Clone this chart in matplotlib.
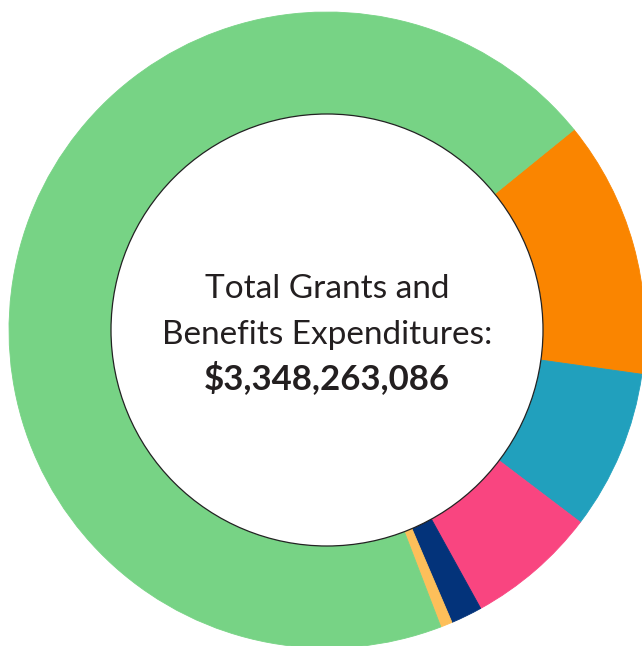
import matplotlib
matplotlib.use("Agg")
import matplotlib.pyplot as plt
from matplotlib.patches import Circle

# Data (shares, percent)
categories = ["Category A", "Category B", "Category C", "Category D", "Category E", "Category F"]
shares = [13.07, 8.11, 6.64, 1.60, 0.60, 69.98]
colors = ["#FA8500", "#21A0BD", "#F94580", "#03337A", "#FDBF5A", "#77D385"]
title_lines = ["Total Grants and", "Benefits Expenditures:"]
total_label = "$3,348,263,086"

W, H = 642, 646
fig = plt.figure(figsize=(W / 100, H / 100), dpi=100)
ax = fig.add_axes([0, 0, 1, 1])

cx, cy = 327, H - 330
r_out, r_in = 318, 216

wedges, _ = ax.pie(shares, colors=colors, startangle=39.05, counterclock=False,
                   center=(cx, cy), radius=r_out,
                   wedgeprops=dict(width=r_out - r_in, linewidth=0.6, edgecolor=None))
for w, c in zip(wedges, colors):
    w.set_edgecolor(c)

ax.add_patch(Circle((cx, cy), r_in, facecolor="white", edgecolor="#222222", linewidth=0.9, zorder=5))

ax.text(cx, H - 298, title_lines[0], ha="center", va="baseline", fontsize=24,
        family="Lato", color="#231F20", zorder=6)
ax.text(cx, H - 344, title_lines[1], ha="center", va="baseline", fontsize=24,
        family="Lato", color="#231F20", zorder=6)
ax.text(cx, H - 389, total_label, ha="center", va="baseline", fontsize=25,
        family="Lato", fontweight="bold", color="#231F20", zorder=6)

ax.set_xlim(0, W)
ax.set_ylim(0, H)
ax.set_aspect("equal")
ax.axis("off")
fig.savefig("out.png", dpi=100)
